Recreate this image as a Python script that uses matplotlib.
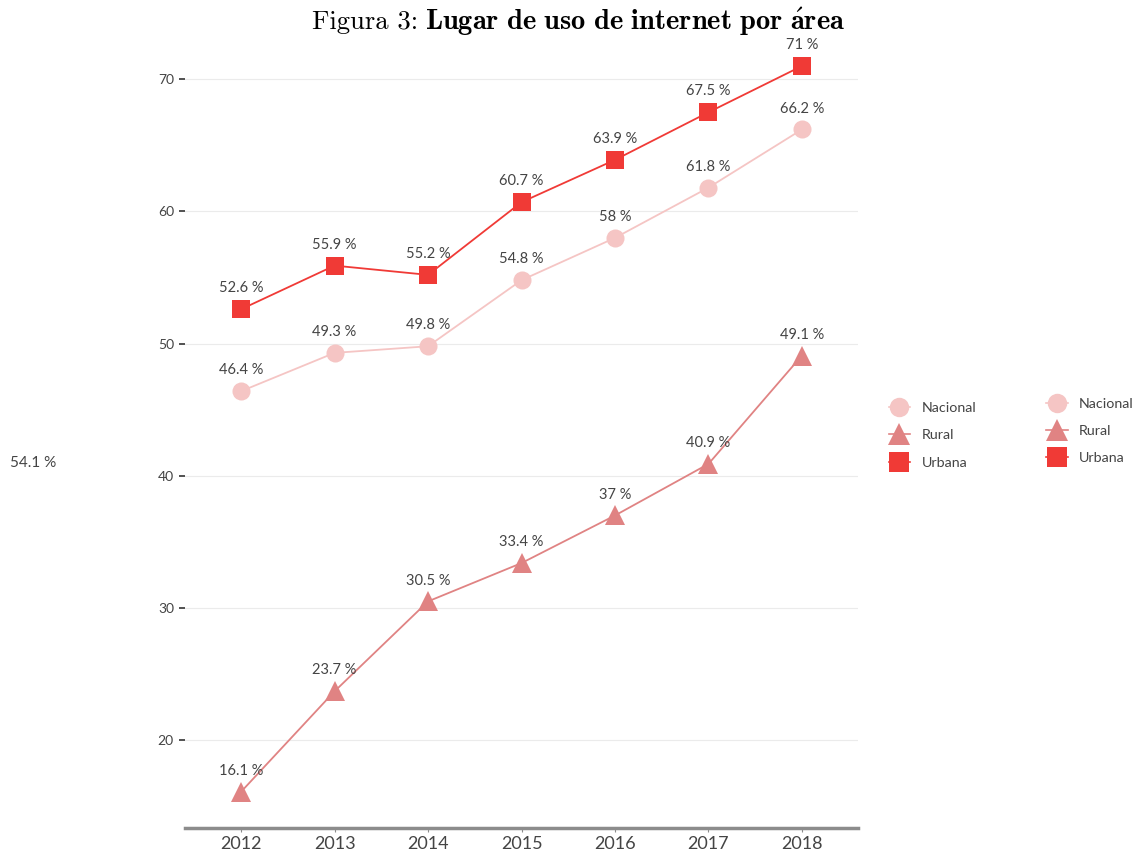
import matplotlib
matplotlib.use("Agg")
import matplotlib.pyplot as plt
from matplotlib.lines import Line2D

years = [2012, 2013, 2014, 2015, 2016, 2017, 2018]
nacional = [46.4, 49.3, 49.8, 54.8, 58.0, 61.8, 66.2]
rural = [16.1, 23.7, 30.5, 33.4, 37.0, 40.9, 49.1]
urbana = [52.6, 55.9, 55.2, 60.7, 63.9, 67.5, 71.0]
series_names = ["Nacional", "Rural", "Urbana"]
stray_label = "54.1 %"
yticks = [20, 30, 40, 50, 60, 70]
title_plain = "Figura 3:"
title_bold = r"Lugar\ de\ uso\ de\ internet\ por\ \acute{a}rea"

colors = {"Nacional": "#F5C5C4", "Rural": "#E08383", "Urbana": "#F03A36"}
markers = {"Nacional": "o", "Rural": "^", "Urbana": "s"}
msizes = {"Nacional": 13, "Rural": 15, "Urbana": 13}

plt.rcParams["font.family"] = ["Lato", "DejaVu Sans"]
plt.rcParams["mathtext.fontset"] = "cm"

fig = plt.figure(figsize=(11.35, 8.52), dpi=100)
ax = fig.add_axes([0.163, 0.0282, 0.593, 0.937])

data = {"Nacional": nacional, "Rural": rural, "Urbana": urbana}
for name in ["Nacional", "Rural", "Urbana"]:
    vals = data[name]
    ax.plot(years, vals, color=colors[name], lw=1.3, marker=markers[name],
            markersize=msizes[name], markeredgewidth=0, zorder=3)
    for x, y in zip(years, vals):
        lab = f"{y:g} %"
        ax.annotate(lab, (x, y), xytext=(0, 15), textcoords="offset points",
                    ha="center", va="center", fontsize=10.5, color="#444444")

ax.set_xlim(2011.4, 2018.6)
ax.set_ylim(13.36, 73.75)
ax.set_xticks(years)
ax.set_xticklabels([str(y) for y in years])
ax.set_yticks(yticks)
ax.grid(axis="y", color="#EBEBEB", lw=0.8)
ax.grid(axis="x", visible=False)
ax.set_axisbelow(True)
for s in ["top", "right", "left"]:
    ax.spines[s].set_visible(False)
ax.spines["bottom"].set_color("#8C8C8C")
ax.spines["bottom"].set_linewidth(2.5)
ax.tick_params(axis="y", length=4, width=1.2, color="#333333", labelsize=10,
               labelcolor="#444444", pad=4)
ax.tick_params(axis="x", length=3, width=0.8, color="#8C8C8C", labelsize=13,
               labelcolor="#444444", pad=3)

t1 = fig.text(0.2748, 0.974, title_plain, family="cmr10", fontsize=19.2,
              ha="left", va="center", color="black")
fig.canvas.draw()
ax.annotate("$\\mathbf{" + title_bold + "}$", xy=(1, 0.5), xycoords=t1,
            xytext=(5, 0), textcoords="offset points",
            ha="left", va="center", fontsize=20.5, color="black",
            annotation_clip=False)

fig.text(0.0088, 0.456, stray_label, fontsize=11, color="#444444", ha="left", va="center")

handles = [Line2D([0], [0], color=colors[n], marker=markers[n], markersize=msizes[n] + 1,
                  markeredgewidth=0, lw=1.2) for n in series_names]
leg1 = fig.legend(handles, series_names, loc="center left", bbox_to_anchor=(0.7715, 0.489),
                  frameon=False, fontsize=10.3, handlelength=1.5, handletextpad=0.85,
                  labelspacing=1.07, labelcolor="#444444")
leg2 = fig.legend(handles, series_names, loc="center left", bbox_to_anchor=(0.9105, 0.494),
                  frameon=False, fontsize=10.3, handlelength=1.5, handletextpad=0.75,
                  labelspacing=1.07, labelcolor="#444444")

fig.savefig("out.png", dpi=100)
